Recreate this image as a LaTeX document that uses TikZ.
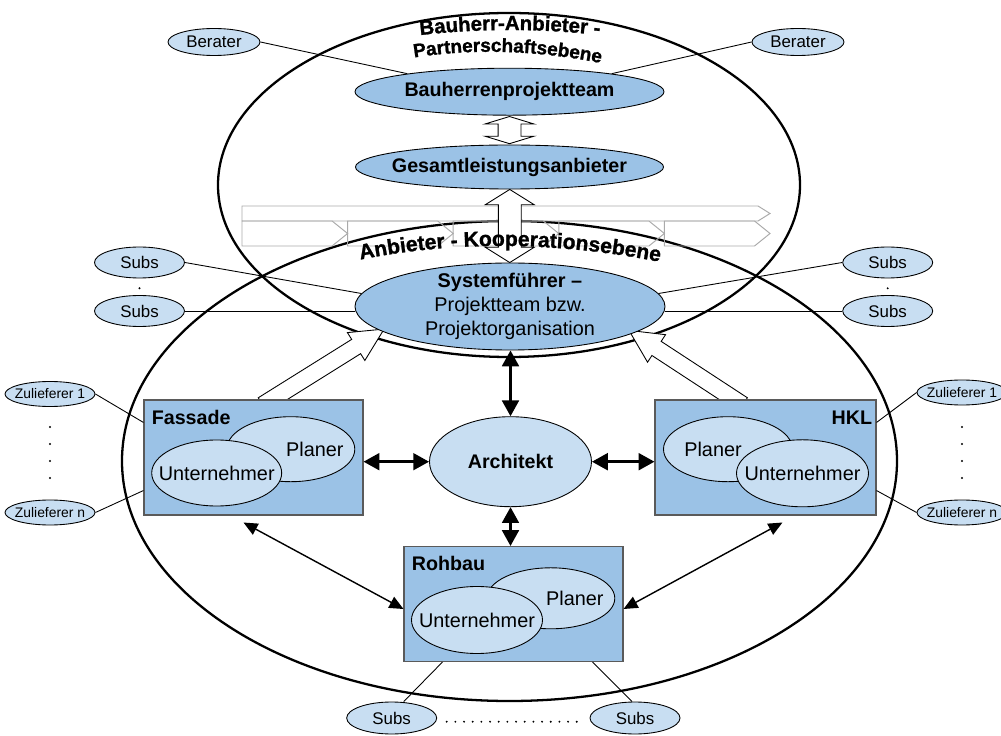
\documentclass[tikz,border=0pt]{standalone}
\usepackage{fontspec}
\setmainfont{Liberation Sans}
\newfontfamily\arcfont{Liberation Sans}[FakeBold=1.2]
\usetikzlibrary{shapes.geometric,shapes.arrows,arrows.meta,calc,decorations.text}
\pgfdeclarelayer{bg}
\pgfdeclarelayer{arr}
\pgfsetlayers{bg,arr,main}
\definecolor{midblue}{RGB}{155,194,230}
\definecolor{paleblue}{RGB}{200,222,242}
\definecolor{boxline}{RGB}{90,90,90}
\definecolor{bandline}{RGB}{170,170,170}
\newcommand\pxu{0.02cm}
\newcommand\arctitleA{\arcfont\bfseries\fontsize{11.6}{12}\selectfont}
\newcommand\arctitleB{\arcfont\bfseries\fontsize{10.8}{12}\selectfont}
\newcommand\arctitleC{\arcfont\bfseries\fontsize{12}{13}\selectfont}

\begin{document}
\begin{tikzpicture}[x=0.02cm, y=-0.02cm,
  ring/.style={draw=black, line width=1.3pt},
  band/.style={draw=bandline, line width=0.55pt},
  link/.style={draw=black, line width=0.5pt},
  ell/.style n args={3}{ellipse, draw=black, line width=0.5pt, inner sep=0pt,
    fill=#3, minimum width=#1*\pxu, minimum height=#2*\pxu},
  box/.style n args={2}{rectangle, draw=boxline, line width=0.6pt, fill=midblue,
    inner sep=0pt, minimum width=#1*\pxu, minimum height=#2*\pxu},
  boldtxt/.style={font=\bfseries\fontsize{11.2}{13}\selectfont},
  regtxt/.style={font=\fontsize{11.3}{13.5}\selectfont},
  smalltxt/.style={font=\fontsize{9.6}{11}\selectfont},
  tinytxt/.style={font=\fontsize{7.9}{9}\selectfont},
  thickarr/.style={line width=1.6pt,
    {Triangle[length=9pt,width=9.5pt]}-{Triangle[length=9pt,width=9.5pt]}},
  thinarr/.style={line width=0.8pt,
    {Triangle[length=8pt,width=7pt]}-{Triangle[length=8pt,width=7pt]}},
  blockarr/.style={single arrow, draw=black, line width=0.5pt, fill=white,
    text height=0pt, text depth=0pt, inner xsep=0pt, inner ysep=0.16cm,
    single arrow head extend=0.16cm, single arrow tip angle=53, minimum width=0pt},
  dblarr/.style={double arrow, draw=black, line width=0.5pt, fill=white,
    text height=0pt, text depth=0pt, inner xsep=0pt, inner ysep=0.22cm,
    double arrow head extend=0.26cm, double arrow tip angle=#1, minimum width=0pt},
]
\useasboundingbox (0,0) rectangle (1001,736);

% the two levels
\begin{pgfonlayer}{bg}
  \draw[ring] (509,185) ellipse [x radius=291, y radius=172];
  \draw[ring] (509.5,461) ellipse [x radius=387.5, y radius=240];
  % process band
  \draw[band] (242,206) -- (758,206) -- (770,213.5) -- (758,221) -- (242,221) -- cycle;
  \foreach \i in {0,...,4} {
    \draw[band] ({242+105.6*\i},221) -- ({242+105.6*\i+90.1},221)
      -- ({242+105.6*(\i+1)},233.5) -- ({242+105.6*\i+90.1},246)
      -- ({242+105.6*\i},246) -- cycle;
  }
\end{pgfonlayer}

% upper level
\node[ell={92}{27}{paleblue}, label={[smalltxt]center:Berater}] (berL) at (214,42) {};
\node[ell={92}{27}{paleblue}, label={[smalltxt]center:Berater}] (berR) at (798,42) {};
\node[ell={309}{47}{midblue}, label={[boldtxt]center:Bauherrenprojektteam}] (bpt) at (509.5,91.7) {};
\node[ell={308}{44}{midblue}, label={[boldtxt]center:Gesamtleistungsanbieter}] (gla) at (509.5,167) {};

% system leader
\node[ell={310}{87}{midblue},
  label={[regtxt, align=center]center:{\textbf{Systemführer –}\\Projektteam bzw.\\Projektorganisation}}]
  (sf) at (510,306.5) {};

% subcontractors of the system leader
\node[ell={90}{31}{paleblue}, label={[smalltxt]center:Subs}] (subsL1) at (139.5,262.5) {};
\node[ell={90}{31}{paleblue}, label={[smalltxt]center:Subs}] (subsL2) at (139.5,311) {};
\node[ell={90}{31}{paleblue}, label={[smalltxt]center:Subs}] (subsR1) at (887.7,262.5) {};
\node[ell={90}{31}{paleblue}, label={[smalltxt]center:Subs}] (subsR2) at (887.7,311) {};
\fill (139.5,288.3) circle[radius=0.6pt];
\fill (887.7,288.3) circle[radius=0.6pt];

% architect
\node[ell={162}{90}{paleblue}, label={[boldtxt]center:Architekt}] (arch) at (510.5,461.7) {};

% trade packages
\node[box={219}{115}] (fas) at (253.5,457.5) {};
\node[boldtxt, anchor=base west, inner sep=0pt] (fasT) at ($(fas.north west)+(8,25)$) {Fassade};
\node[ell={128}{65}{paleblue}, label={[regtxt, xshift=0.48cm]center:Planer}] (fasP) at (290.8,449.2) {};
\node[ell={130}{66}{paleblue}, label={[regtxt]center:Unternehmer}] (fasU) at (216.7,473) {};

\node[box={221}{115}] (hkl) at (765.5,457.5) {};
\node[boldtxt, anchor=base east, inner sep=0pt] (hklT) at ($(hkl.north east)+(-4,25)$) {HKL};
\node[ell={129}{65}{paleblue}, label={[regtxt, xshift=-0.3cm]center:Planer}] (hklP) at (728,449.2) {};
\node[ell={132}{67}{paleblue}, label={[regtxt]center:Unternehmer}] (hklU) at (802.5,473.3) {};

\node[box={219}{115}] (roh) at (513.5,604) {};
\node[boldtxt, anchor=base west, inner sep=0pt] (rohT) at ($(roh.north west)+(8,25)$) {Rohbau};
\node[ell={128}{61}{paleblue}, label={[regtxt, xshift=0.48cm]center:Planer}] (rohP) at (550.8,598.3) {};
\node[ell={131}{67}{paleblue}, label={[regtxt]center:Unternehmer}] (rohU) at (477,620) {};

% suppliers
\node[ell={90}{25}{paleblue}, label={[tinytxt]center:Zulieferer 1}] (zl1) at (50,394) {};
\node[ell={90}{25}{paleblue}, label={[tinytxt]center:Zulieferer n}] (zln) at (50,512.5) {};
\node[ell={90}{25}{paleblue}, label={[tinytxt]center:Zulieferer 1}] (zr1) at (962,392.5) {};
\node[ell={90}{25}{paleblue}, label={[tinytxt]center:Zulieferer n}] (zrn) at (962,512.5) {};
\foreach \yy in {427,444,461,478} {
  \fill (50,\yy) circle[radius=0.6pt];
  \fill (962,\yy) circle[radius=0.6pt];
}

% subcontractors of the shell construction
\node[ell={90}{32}{paleblue}, label={[smalltxt]center:Subs}] (subsB1) at (391.7,718) {};
\node[ell={90}{32}{paleblue}, label={[smalltxt]center:Subs}] (subsB2) at (635,718) {};
\foreach \i in {0,...,15} \fill ({446.7+8.67*\i},721.7) circle[radius=0.6pt];

% plain connecting lines
\draw[link] (berL.east) -- (bpt.170);
\draw[link] (berR.west) -- (bpt.10);
\draw[link] (subsL1.east) -- (sf.175);
\draw[link] (subsL2.east) -- (subsL2.east -| sf.west);
\draw[link] (subsR1.west) -- (sf.5);
\draw[link] (subsR2.west) -- (subsR2.west -| sf.east);
\draw[link] (zl1.east) -- ($(fas.north west)+(0,23)$);
\draw[link] (zln.east) -- ($(fas.south west)+(0,-25)$);
\draw[link] (zr1.west) -- ($(hkl.north east)+(0,23)$);
\draw[link] (zrn.west) -- ($(hkl.south east)+(0,-25)$);
\draw[link] ($(roh.south west)+(39,0)$) -- ($(subsB1.north)+(12,0)$);
\draw[link] ($(roh.south east)+(-31,0)$) -- ($(subsB2.north)+(-3,0)$);

% cooperation arrows
\draw[thickarr] (fas.east |- arch.west) -- (arch.west);
\draw[thickarr] (arch.east) -- (arch.east -| hkl.west);
\draw[thickarr] (arch.north |- sf.south) -- (arch.north);
\draw[thickarr] (arch.south) -- (arch.south |- roh.north);
\draw[thinarr] ($(fas.south west)+(100,7)$) -- ($(roh.west)+(0,5)$);
\draw[thinarr] ($(hkl.south west)+(128,7)$) -- ($(roh.east)+(0,5)$);

% block arrows
\coordinate (tailL) at ($(fas.north west)+(112,10)$);
\coordinate (tipL) at ($(sf.center)+(-133,27)$);
\coordinate (tailR) at ($(hkl.north west)+(95.4,10)$);
\coordinate (tipR) at ($(sf.center)+(126,28.5)$);
\begin{pgfonlayer}{arr}
  \path let \p1=(tailL), \p2=(tipL), \n1={atan2(\y2-\y1,\x2-\x1)}, \n2={veclen(\x2-\x1,\y2-\y1)} in
    node[blockarr, rotate=\n1, minimum height=\n2] (barL) at ($(\p1)!0.5!(\p2)$) {};
  \path let \p1=(tailR), \p2=(tipR), \n1={atan2(\y2-\y1,\x2-\x1)}, \n2={veclen(\x2-\x1,\y2-\y1)} in
    node[blockarr, rotate=\n1, minimum height=\n2] (barR) at ($(\p1)!0.5!(\p2)$) {};
  \path let \p1=(bpt.south), \p2=(gla.north), \n2={veclen(\x2-\x1,\y2-\y1)} in
    node[dblarr=146, rotate=90, minimum height=\n2-1] (dblTop) at ($(\p1)!0.5!(\p2)$) {};
  \path let \p1=(gla.south), \p2=(sf.north), \n2={veclen(\x2-\x1,\y2-\y1)} in
    node[dblarr=116, rotate=90, minimum height=\n2] (dblMid) at ($(\p1)!0.5!(\p2)$) {};
\end{pgfonlayer}

% level titles along arcs
\path[decorate, decoration={text along path, text align=center,
  text={|\arctitleA|Bauherr-Anbieter -}}]
  (405,37) .. controls (475,27.7) and (545,27.7) .. (615,37);
\path[decorate, decoration={text along path, text align=center,
  text={|\arctitleB|Partnerschaftsebene}}]
  (405,59) .. controls (470,47.7) and (538.3,49.7) .. (610,65);
\path[decorate, decoration={text along path, text align=center,
  text={|\arctitleC|Anbieter - Kooperationsebene}}]
  (340,264) .. controls (446.7,239.3) and (560,240) .. (680,266);
\end{tikzpicture}
\end{document}
